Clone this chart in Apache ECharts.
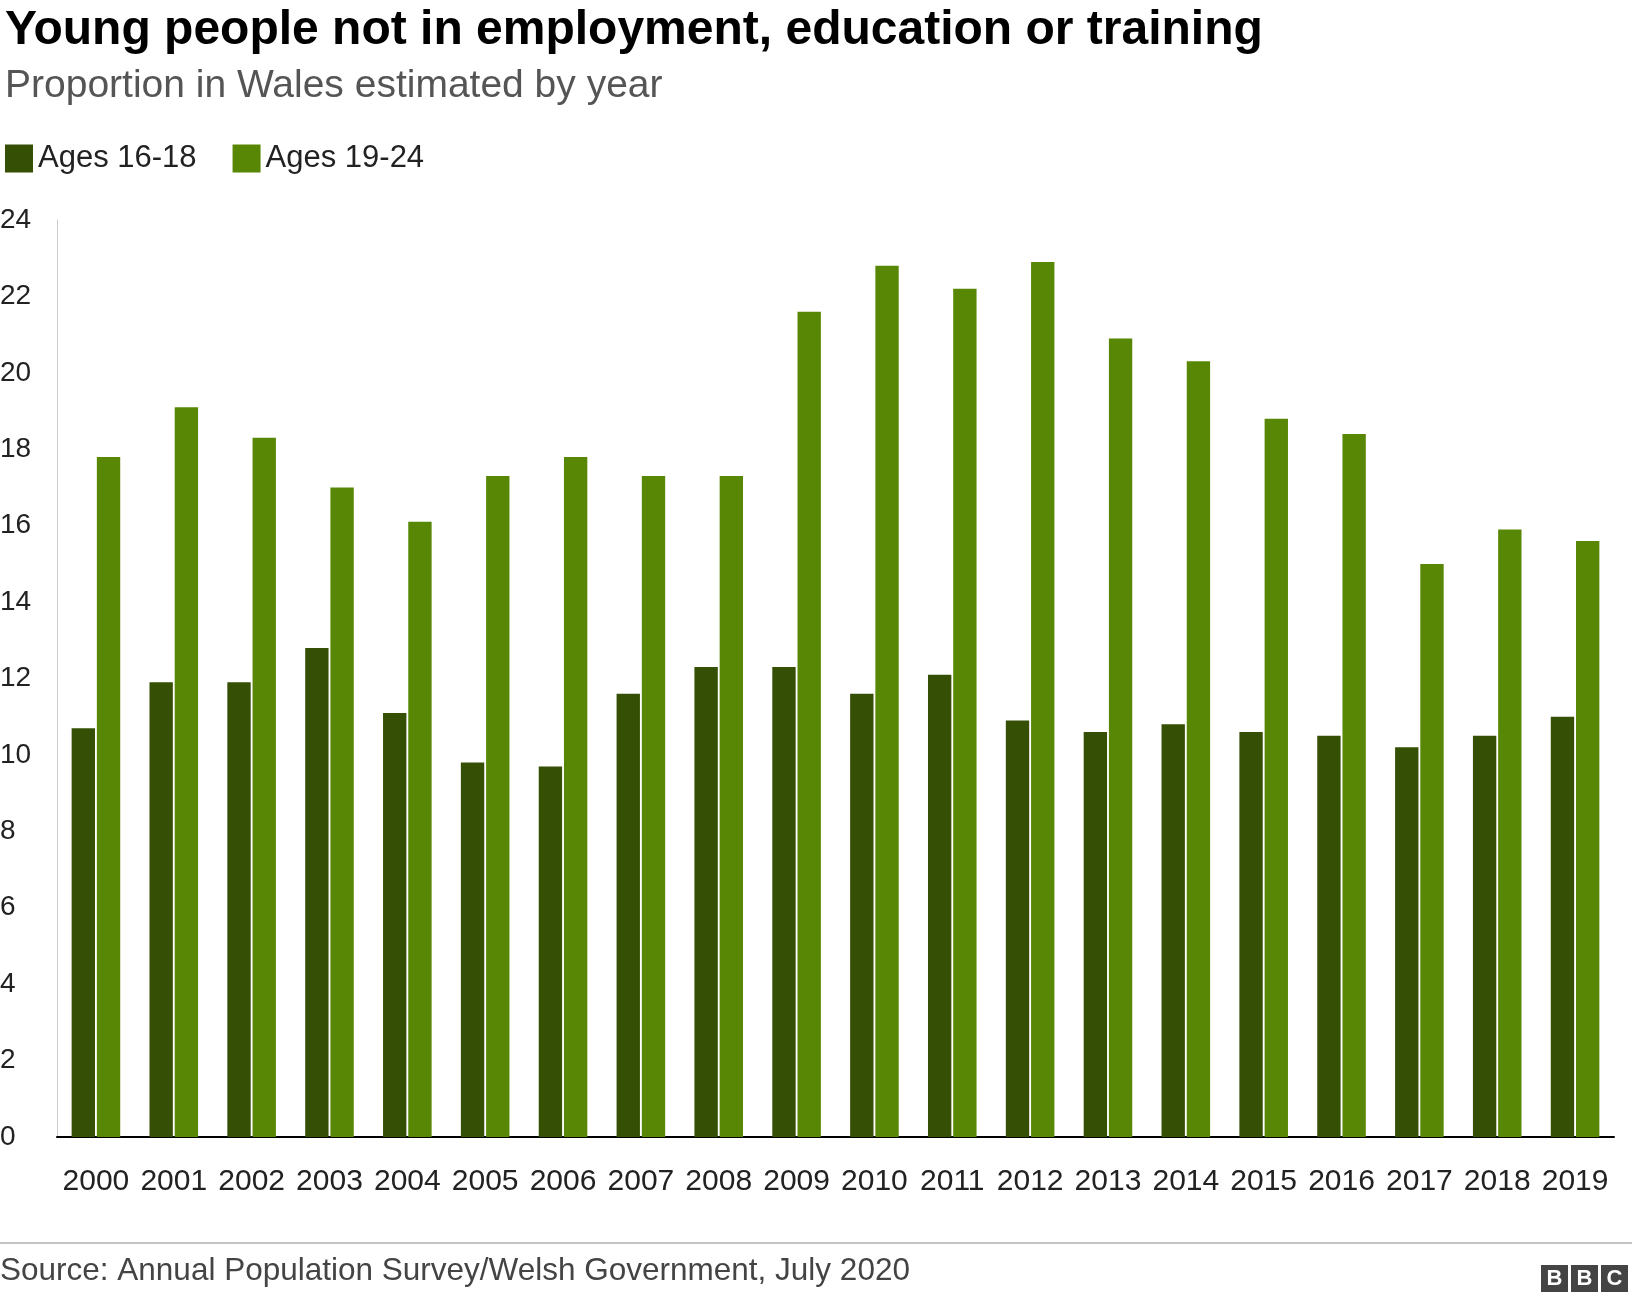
<!DOCTYPE html>
<html><head><meta charset="utf-8">
<script src="https://cdn.jsdelivr.net/npm/echarts@6/dist/echarts.min.js"></script>
<style>body{margin:0;background:#fff}#c{width:1632px;height:1300px}</style>
</head><body><div id="c"></div>
<script>
const years=['2000','2001','2002','2003','2004','2005','2006','2007','2008','2009','2010','2011','2012','2013','2014','2015','2016','2017','2018','2019'];
const ages1618=[10.7,11.9,11.9,12.8,11.1,9.8,9.7,11.6,12.3,12.3,11.6,12.1,10.9,10.6,10.8,10.6,10.5,10.2,10.5,11.0];
const ages1924=[17.8,19.1,18.3,17.0,16.1,17.3,17.8,17.3,17.3,21.6,22.8,22.2,22.9,20.9,20.3,18.8,18.4,15.0,15.9,15.6];
const F='Liberation Sans, Arial, sans-serif';
const chart=echarts.init(document.getElementById('c'));
chart.setOption({
 animation:false,
 textStyle:{fontFamily:F},
 title:[{text:'Young people not in employment, education or training',left:0,top:2,textStyle:{fontSize:48,fontWeight:'bold',color:'#000',fontFamily:F}},
  {text:'Proportion in Wales estimated by year',left:0,top:62,textStyle:{fontSize:39,fontWeight:'normal',color:'#555',fontFamily:F}}],
 legend:{left:0,top:138,itemWidth:28,itemHeight:28,itemGap:36,icon:'rect',textStyle:{fontSize:31,color:'#222',fontFamily:F}},
 grid:{left:57,right:18,top:220,bottom:163,containLabel:false,outerBoundsMode:'none'},
 xAxis:{type:'category',data:years,axisTick:{show:false},axisLine:{lineStyle:{color:'#000',width:2}},axisLabel:{fontSize:30,color:'#222',margin:30,interval:0}},
 yAxis:{type:'value',min:0,max:24,interval:2,splitLine:{show:false},axisLine:{show:true,lineStyle:{color:'#ccc'}},axisLabel:{fontSize:28,color:'#222',margin:57,align:'left'}},
 series:[{name:'Ages 16-18',type:'bar',data:ages1618,itemStyle:{color:'#354f05'},barWidth:'30%',barGap:'8%'},
  {name:'Ages 19-24',type:'bar',data:ages1924,itemStyle:{color:'#588705'},barWidth:'30%'}],
 graphic:[{type:'line',shape:{x1:0,y1:1243,x2:1632,y2:1243},style:{stroke:'#888',lineWidth:1}},
  {type:'text',left:0,top:1255,style:{text:'Source: Annual Population Survey/Welsh Government, July 2020',fontSize:31.5,fill:'#444',fontFamily:F}},
  {type:'group',right:4,top:1265,children:[0,1,2].map(i=>({type:'group',x:i*30,children:[{type:'rect',shape:{x:0,y:0,width:27,height:27},style:{fill:'#444'}},{type:'text',style:{text:'BBC'[i],x:13.5,y:14,align:'center',verticalAlign:'middle',fontSize:22,fontWeight:'bold',fill:'#fff',fontFamily:F}}]}))}]
});
</script></body></html>
